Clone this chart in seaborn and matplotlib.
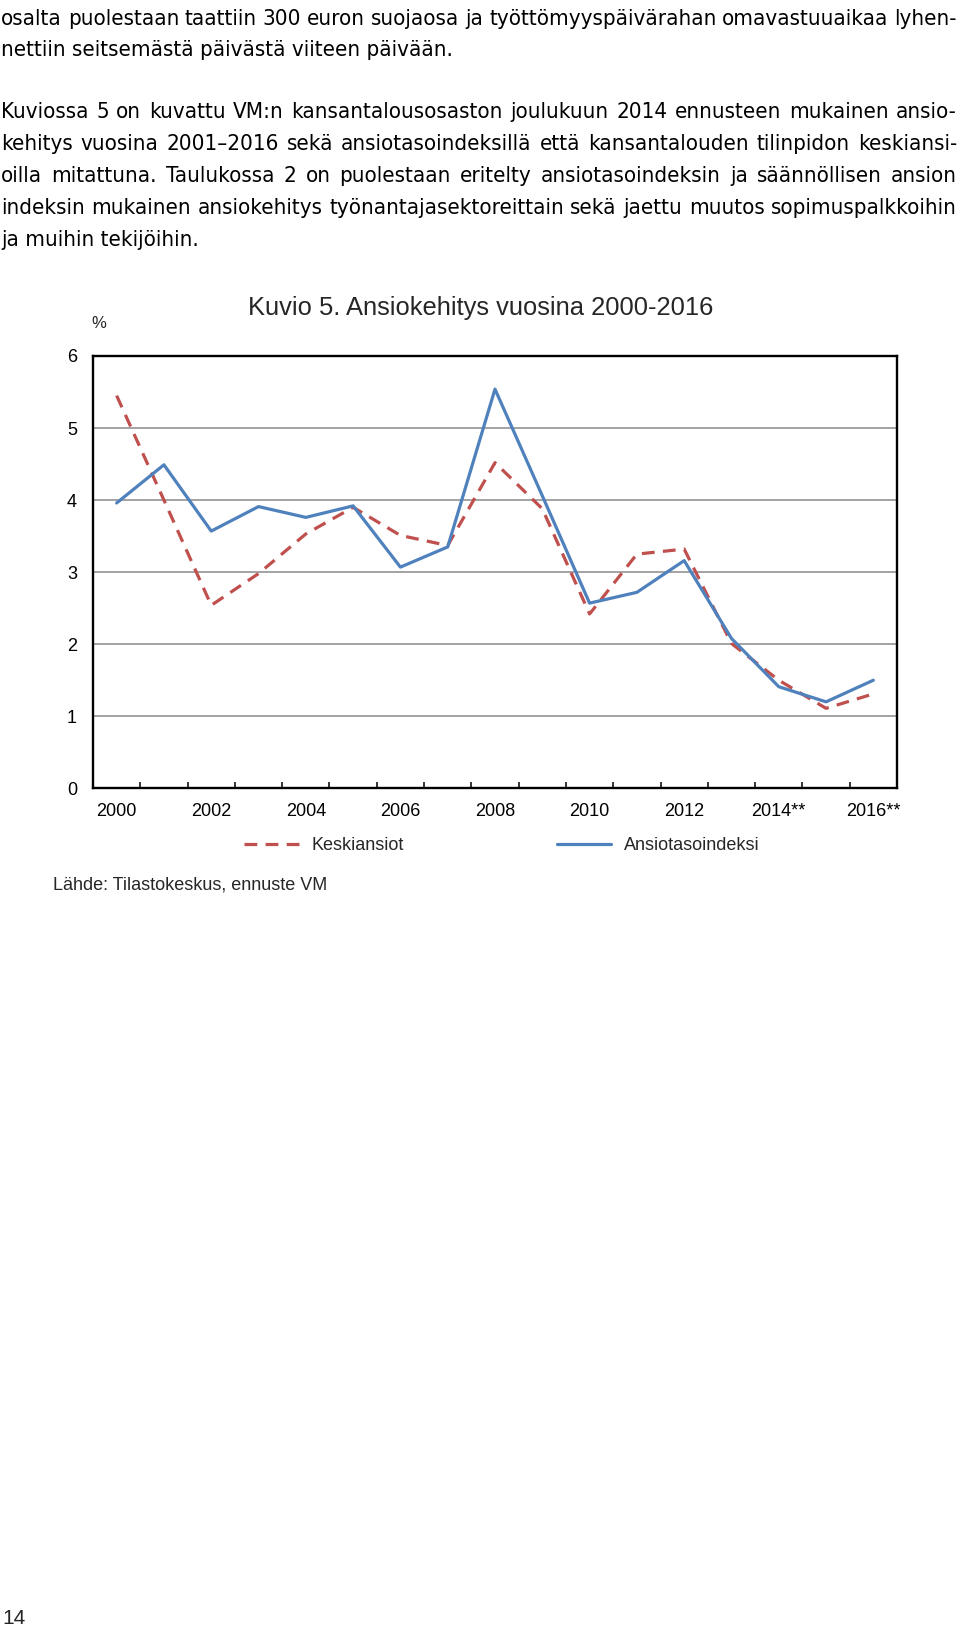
import matplotlib
matplotlib.use('Agg')
import pandas as pd
import seaborn as sns
from matplotlib import pyplot as plt
from matplotlib.font_manager import FontProperties

# values
years = list(range(2000, 2017))
year_labels = ['2000', '', '2002', '', '2004', '', '2006', '', '2008', '', '2010', '',
               '2012', '', '2014**', '', '2016**']
keskiansiot = [5.45, 4.0, 2.54, 2.98, 3.53, 3.9, 3.51, 3.37, 4.52, 3.88,
               2.42, 3.25, 3.32, 2.01, 1.5, 1.11, 1.31]
ansiotasoindeksi = [3.96, 4.49, 3.57, 3.91, 3.76, 3.92, 3.07, 3.35, 5.54, 4.06,
                    2.57, 2.72, 3.16, 2.08, 1.41, 1.2, 1.5]
series_names = ['Keskiansiot', 'Ansiotasoindeksi']
series_colors = ['#C0504D', '#4F81BD']
y_ticks = [0, 1, 2, 3, 4, 5, 6]

title = 'Kuvio 5. Ansiokehitys vuosina 2000-2016'
source = 'Lähde: Tilastokeskus, ennuste VM'
page_number = '14'
body_lines = [
    'osalta puolestaan taattiin 300 euron suojaosa ja työttömyyspäivärahan omavastuuaikaa lyhen-',
    'nettiin seitsemästä päivästä viiteen päivään.',
    'Kuviossa 5 on kuvattu VM:n kansantalousosaston joulukuun 2014 ennusteen mukainen ansio-',
    'kehitys vuosina 2001–2016 sekä ansiotasoindeksillä että kansantalouden tilinpidon keskiansi-',
    'oilla mitattuna. Taulukossa 2 on puolestaan eritelty ansiotasoindeksin ja säännöllisen ansion',
    'indeksin mukainen ansiokehitys työnantajasektoreittain sekä jaettu muutos sopimuspalkkoihin',
    'ja muihin tekijöihin.',
]
body_justified = [True, False, True, True, True, True, False]
body_baselines = [25, 56, 118, 150, 182, 214, 246]  # px from top

W, H = 960, 1627


def draw_body(fig):
    renderer = fig.canvas.get_renderer()
    fp = FontProperties(family='DejaVu Sans', stretch='condensed', size=10)

    def width(s, prop):
        return renderer.get_text_width_height_descent(s, prop, ismath=False)[0]

    # size the font from the short (ragged) line
    size = 10 * 453 / width(body_lines[1], fp)
    fp = FontProperties(family='DejaVu Sans', stretch='condensed', size=size)
    left, right = 1, 957
    for line, just, base in zip(body_lines, body_justified, body_baselines):
        y = 1 - base / H
        if not just:
            fig.text(left / W, y, line, fontproperties=fp, va='baseline', color='black')
            continue
        words = line.split(' ')
        widths = [width(w, fp) for w in words]
        gap = (right - left - sum(widths)) / (len(words) - 1)
        x = left
        for w, wd in zip(words, widths):
            fig.text(x / W, y, w, fontproperties=fp, va='baseline', color='black')
            x += wd + gap


def plot_chart():
    sns.set_theme(style='white')
    plt.rcParams['font.family'] = ['Liberation Sans', 'DejaVu Sans']

    fig = plt.figure(figsize=(W / 100, H / 100), dpi=100)
    ax = fig.add_axes([93 / W, 1 - 788.3 / H, (897 - 93) / W, (788.3 - 356) / H])

    df = pd.DataFrame({
        'Vuosi': years * 2,
        'Muutos': keskiansiot + ansiotasoindeksi,
        'Sarja': [series_names[0]] * len(years) + [series_names[1]] * len(years),
    })
    sns.lineplot(data=df, x='Vuosi', y='Muutos', hue='Sarja', style='Sarja',
                 palette=dict(zip(series_names, series_colors)),
                 dashes={series_names[0]: (4, 2.6), series_names[1]: ''},
                 linewidth=2.3, legend=False, ax=ax)

    ax.set_xlim(years[0] - 0.5, years[-1] + 0.5)
    ax.set_ylim(y_ticks[0], y_ticks[-1])
    ax.set_xlabel('')
    ax.set_ylabel('')
    ax.set_xticks(years)
    ax.set_xticklabels(year_labels)
    ax.set_xticks([y + 0.5 for y in years[:-1]], minor=True)
    ax.set_yticks(y_ticks)
    ax.tick_params(axis='x', which='major', length=0, pad=10.5, labelsize=13, labelcolor='black')
    ax.tick_params(axis='x', which='minor', direction='in', length=4, width=1.1, color='black', bottom=True)
    ax.tick_params(axis='y', length=0, pad=11.5, labelsize=13, labelcolor='black')
    ax.yaxis.grid(True, color='#8a8a8a', linewidth=1.1)
    ax.xaxis.grid(False)
    for sp in ax.spines.values():
        sp.set_visible(True)
        sp.set_color('black')
        sp.set_linewidth(1.7)

    fig.legend(ax.get_lines()[:2], series_names, loc='center', ncol=2, frameon=False,
               bbox_to_anchor=(502 / W, 1 - 846 / H), fontsize=13,
               handlelength=3.0, handletextpad=0.7, columnspacing=8.5)

    fig.text(481 / W, 1 - 315 / H, title, ha='center', va='baseline', fontsize=18.4)
    fig.text(99 / W, 1 - 328 / H, '%', ha='center', va='baseline', fontsize=12)
    fig.text(53 / W, 1 - 890 / H, source, ha='left', va='baseline', fontsize=13)
    fig.text(2 / W, 1 - 1624 / H, page_number, ha='left', va='baseline', fontsize=15)

    draw_body(fig)
    fig.savefig('out.png', dpi=100, facecolor='white')


if __name__ == '__main__':
    plot_chart()
